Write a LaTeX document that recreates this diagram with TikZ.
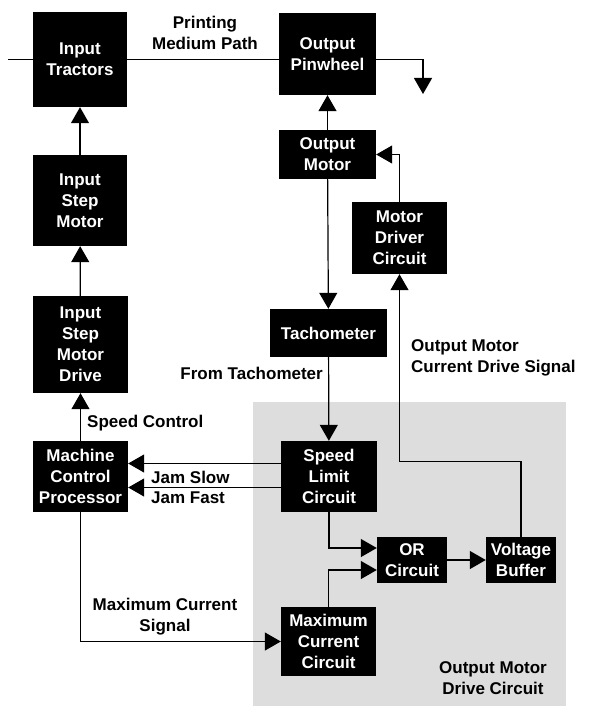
\documentclass[tikz,border=0pt]{standalone}
\usepackage{fontspec}
\setmainfont{Liberation Sans}
\usepackage{tikz}
\usetikzlibrary{arrows.meta,positioning,calc}
\newcommand{\diagfont}{\fontsize{17}{21}\selectfont\bfseries}
\definecolor{shadeGray}{HTML}{DDDDDD}
\tikzset{
  blk/.style={fill=black, text=white, font=\diagfont, align=center, inner sep=0pt},
  lbl/.style={font=\diagfont, align=center, inner sep=0pt},
  arrflow/.style={-{Triangle[length=16pt,width=18pt]}, line width=1.2pt},
  wire/.style={line width=1.2pt},
}

\begin{document}
\begin{tikzpicture}[x=1pt, y=-1pt]
\useasboundingbox (0,0) rectangle (592,706);
\fill[shadeGray] (253,402) rectangle (566,706);

\node[blk, minimum width=94, minimum height=95] (trac) at (80,59.5) {Input\\Tractors};
\node[blk, minimum width=97, minimum height=82] (pinw) at (327.5,54) {Output\\Pinwheel};
\node[blk, minimum width=94, minimum height=91] (ism) at (80,200.5) {Input\\Step\\Motor};
\node[blk, minimum width=95, minimum height=97] (isd) at (80.5,344.5) {Input\\Step\\Motor\\Drive};
\node[blk, minimum width=95, minimum height=71] (mcp) at (80.5,476.5) {Machine\\Control\\Processor};
\node[blk, minimum width=97, minimum height=49] (om) at (327.5,154.5) {Output\\Motor};
\node[blk, minimum width=95, minimum height=72] (mdc) at (399.5,238) {Motor\\Driver\\Circuit};
\node[blk, minimum width=117, minimum height=48] (tach) at (328.5,333) {Tachometer};
\node[blk, minimum width=96, minimum height=71] (slc) at (329,476.5) {Speed\\Limit\\Circuit};
\node[blk, minimum width=70, minimum height=46] (orc) at (412,560) {OR\\Circuit};
\node[blk, minimum width=70, minimum height=46] (vbuf) at (521,560) {Voltage\\Buffer};
\node[blk, minimum width=95, minimum height=69] (mcc) at (328.5,641.5) {Maximum\\Current\\Circuit};

\coordinate (feed) at (8,59.5);
\coordinate (exit) at (423,94);
\draw[wire] (feed) -- (trac.west);
\draw[wire] (trac.east) -- (trac.east -| pinw.west);
\draw[arrflow] (trac.east -| pinw.east) -| (exit);
\node[lbl] (path) at (205,33) {Printing\\Medium Path};

\draw[arrflow] (ism) -- (trac);
\draw[arrflow] (isd) -- (ism);
\draw[arrflow] (mcp) -- (isd);
\node[lbl, anchor=west] (spd) at (87,423) {Speed Control};

\draw[arrflow] (om) -- (pinw);
\draw[arrflow] (om) -- (tach);
\draw[arrflow] (mdc.north) |- (om.east);
\draw[arrflow] (tach) -- (slc);
\node[lbl, anchor=east] (fromtach) at (323,373) {From Tachometer};

\draw[arrflow] (vbuf.north) -- ++(0,-75) -| (mdc.south);
\node[lbl, anchor=west, align=left] (omcd) at (411,358) {Output Motor\\Current Drive Signal};

\draw[arrflow] ([yshift=13pt]slc.west) -- ([yshift=13pt]slc.west -| mcp.east);
\draw[arrflow] ([yshift=-11pt]slc.west) -- ([yshift=-11pt]slc.west -| mcp.east);
\node[lbl, anchor=west] (jslow) at (151,477) {Jam Slow};
\node[lbl, anchor=west] (jfast) at (151,498) {Jam Fast};

\draw[arrflow] (slc.south) |- ([yshift=12pt]orc.west);
\draw[arrflow] (mcc.north) |- ([yshift=-10pt]orc.west);
\draw[arrflow] (orc) -- (vbuf);

\draw[arrflow] (mcp.south) |- (mcc.west);
\node[lbl] (maxsig) at (165,617) {Maximum Current\\Signal};

\node[lbl] (omdc) at (493,678.5) {Output Motor\\Drive Circuit};
\end{tikzpicture}
\end{document}
